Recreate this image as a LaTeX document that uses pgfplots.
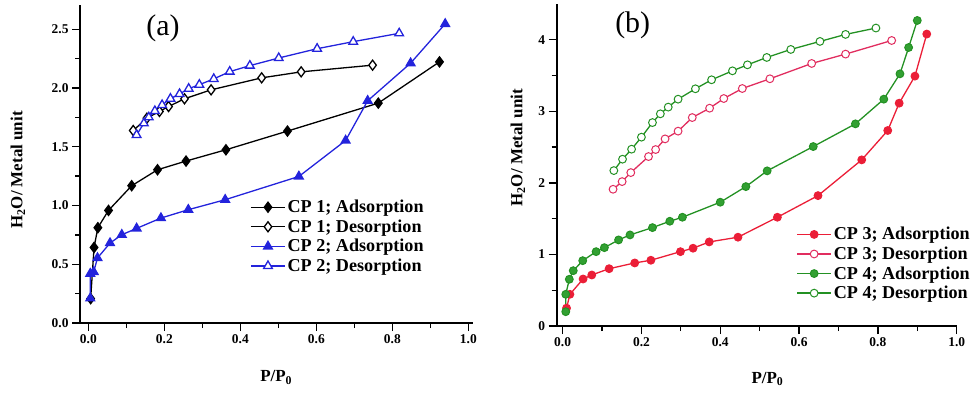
\documentclass[border=0pt]{standalone}
\usepackage{pgfplots}
\pgfplotsset{compat=1.18}
\usepackage{fontspec}
\setmainfont{Liberation Serif}
\definecolor{cpblue}{RGB}{35,35,220}
\definecolor{cpred}{RGB}{235,30,55}
\definecolor{cppink}{RGB}{225,45,95}
\definecolor{cpgreen}{RGB}{35,145,35}
\definecolor{cpgreenfill}{RGB}{50,160,50}
\newcommand{\labfont}{\bfseries\fontsize{17}{17}\selectfont}
\begin{document}
\begin{tikzpicture}
\useasboundingbox (0,0) rectangle (979bp,395bp);
\pgfplotsset{
  iso/.style={
    scale only axis, clip=false,
    axis x line*=bottom, axis y line*=left,
    axis line style={line width=1.6bp},
    tick align=outside,
    major tick length=8bp, minor tick length=5bp,
    tick style={black, line width=1.3bp},
    minor x tick num=1, minor y tick num=1,
    xtick={0,0.2,0.4,0.6,0.8,1.0},
    x tick label style={/pgf/number format/fixed, /pgf/number format/fixed zerofill, /pgf/number format/precision=1},
    tick label style={font=\bfseries\fontsize{13.5}{13.5}\selectfont},
    /pgf/number format/assume math mode=true,
    xlabel={P/P\textsubscript{0}},
    ylabel={H\textsubscript{2}O/ Metal unit},
    legend image code/.code={\draw[mark repeat=2,mark phase=2,##1] plot coordinates {(0bp,0bp)(17bp,0bp)(34bp,0bp)};},
    legend style={draw=none, fill=none, inner sep=0pt, font=\bfseries\fontsize{18.2}{18.2}\selectfont,
      nodes={inner xsep=2bp, inner ysep=1bp}, row sep=3.5bp, cells={anchor=west}},
    every axis plot/.append style={line width=1.3bp, mark options={solid}},
  }
}
% ---------------- panel (a)
\begin{axis}[iso,
  at={(80bp,72bp)}, anchor=south west,
  width=393.3bp, height=318bp,
  xmin=-0.022, xmax=1.013, ymin=0, ymax=2.706,
  ytick={0,0.5,1.0,1.5,2.0,2.5},
  y tick label style={/pgf/number format/fixed, /pgf/number format/fixed zerofill, /pgf/number format/precision=1},
  every axis x label/.style={at={(axis description cs:0.499,-0.172)}, anchor=center, font=\labfont},
  every axis y label/.style={at={(axis description cs:-0.158,0.481)}, anchor=center, rotate=90, font=\labfont},
  legend style={at={(axis description cs:0.4326,0.39)}, anchor=north west},
]
\addplot[black, mark=diamond*, mark size=5bp, mark options={fill=black}] coordinates {
(0.006,0.207) (0.015,0.643) (0.025,0.811) (0.053,0.958) (0.114,1.168) (0.182,1.304)
(0.257,1.378) (0.362,1.474) (0.524,1.633) (0.763,1.871) (0.924,2.222)};
\addlegendentry{CP 1; Adsorption}
\addplot[black, mark=diamond*, mark size=5bp, mark options={fill=white}] coordinates {
(0.118,1.638) (0.154,1.743) (0.187,1.800) (0.211,1.842) (0.253,1.908) (0.323,1.984)
(0.456,2.086) (0.560,2.137) (0.748,2.194)};
\addlegendentry{CP 1; Desorption}
\addplot[cpblue, mark=triangle*, mark size=5bp, mark options={fill=cpblue}] coordinates {
(0.005,0.21) (0.005,0.42) (0.014,0.435) (0.024,0.553) (0.057,0.680) (0.088,0.751)
(0.127,0.805) (0.191,0.893) (0.263,0.964) (0.360,1.049) (0.554,1.247) (0.677,1.553)
(0.735,1.891) (0.848,2.211) (0.939,2.545)};
\addlegendentry{CP 2; Adsorption}
\addplot[cpblue, mark=triangle*, mark size=5bp, mark options={fill=white}] coordinates {
(0.127,1.600) (0.146,1.699) (0.159,1.750) (0.175,1.804) (0.194,1.855) (0.216,1.909)
(0.240,1.949) (0.264,1.994) (0.292,2.028) (0.330,2.077) (0.372,2.139) (0.425,2.190)
(0.501,2.255) (0.602,2.334) (0.697,2.394) (0.818,2.465)};
\addlegendentry{CP 2; Desorption}
\node[font=\fontsize{30}{30}\selectfont] at (axis description cs:0.211,0.928) {(a)};
\end{axis}
% ---------------- panel (b)
\begin{axis}[iso,
  at={(556.7bp,69bp)}, anchor=south west,
  width=400bp, height=322bp,
  xmin=-0.015, xmax=1.0, ymin=0, ymax=4.5,
  ytick={0,1,2,3,4},
  every axis x label/.style={at={(axis description cs:0.527,-0.165)}, anchor=center, font=\labfont},
  every axis y label/.style={at={(axis description cs:-0.097,0.553)}, anchor=center, rotate=90, font=\labfont},
  legend style={at={(axis description cs:0.599,0.31)}, anchor=north west},
]
\addplot[cpred, mark=*, mark size=3.9bp, mark options={fill=cpred, draw=cpred, line width=1bp}] coordinates {
(0.010,0.25) (0.0185,0.443) (0.052,0.657) (0.074,0.713) (0.118,0.801) (0.183,0.881)
(0.224,0.919) (0.299,1.039) (0.331,1.087) (0.372,1.175) (0.445,1.241) (0.545,1.520)
(0.648,1.822) (0.759,2.322) (0.825,2.732) (0.854,3.114) (0.894,3.492) (0.924,4.080)};
\addlegendentry{CP 3; Adsorption}
\addplot[cppink, mark=*, mark size=3.9bp, mark options={fill=white, draw=cppink, line width=1bp}] coordinates {
(0.128,1.911) (0.151,2.018) (0.173,2.144) (0.218,2.368) (0.236,2.466) (0.260,2.615)
(0.293,2.723) (0.329,2.913) (0.373,3.044) (0.409,3.179) (0.456,3.319) (0.526,3.455)
(0.632,3.669) (0.718,3.800) (0.835,3.990)};
\addlegendentry{CP 3; Desorption}
\addplot[cpgreen, mark=*, mark size=3.9bp, mark options={fill=cpgreenfill, draw=cpgreen, line width=1bp}] coordinates {
(0.008,0.200) (0.008,0.443) (0.017,0.653) (0.027,0.773) (0.051,0.913) (0.085,1.039)
(0.106,1.095) (0.142,1.203) (0.171,1.273) (0.228,1.375) (0.272,1.464) (0.304,1.520)
(0.400,1.730) (0.465,1.948) (0.519,2.168) (0.636,2.508) (0.743,2.825) (0.815,3.170)
(0.856,3.524) (0.878,3.892) (0.900,4.270)};
\addlegendentry{CP 4; Adsorption}
\addplot[cpgreen, mark=*, mark size=3.9bp, mark options={fill=white, draw=cpgreen, line width=1bp}] coordinates {
(0.130,2.172) (0.152,2.331) (0.175,2.471) (0.200,2.639) (0.228,2.843) (0.248,2.965)
(0.268,3.059) (0.293,3.170) (0.337,3.315) (0.378,3.441) (0.431,3.566) (0.469,3.650)
(0.518,3.753) (0.579,3.865) (0.653,3.977) (0.718,4.075) (0.795,4.164)};
\addlegendentry{CP 4; Desorption}
\node[font=\fontsize{30}{30}\selectfont] at (axis description cs:0.19,0.935) {(b)};
\end{axis}
\end{tikzpicture}
\end{document}
